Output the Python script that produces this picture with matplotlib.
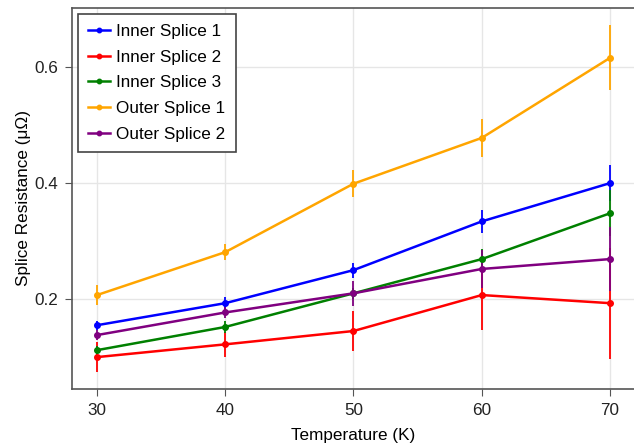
import numpy as np
import matplotlib.pyplot as plt

plt.rcParams['font.family'] = ['Liberation Sans', 'DejaVu Sans']

# temperature (K)
temps = [30, 40, 50, 60, 70]

labels = ['Inner Splice 1', 'Inner Splice 2', 'Inner Splice 3',
          'Outer Splice 1', 'Outer Splice 2']
colors = ['#0000ff', '#ff0000', '#008000', '#ffa500', '#800080']

# splice resistance (micro-ohm) and its error
inner1 = [0.155, 0.193, 0.250, 0.334, 0.400]
inner1_err = [0.008, 0.010, 0.013, 0.020, 0.031]
inner2 = [0.100, 0.122, 0.145, 0.207, 0.193]
inner2_err = [0.026, 0.022, 0.035, 0.060, 0.096]
inner3 = [0.112, 0.152, 0.210, 0.269, 0.348]
inner3_err = [0.008, 0.010, 0.010, 0.018, 0.040]
outer1 = [0.207, 0.281, 0.399, 0.478, 0.616]
outer1_err = [0.017, 0.014, 0.023, 0.033, 0.056]
outer2 = [0.138, 0.177, 0.210, 0.252, 0.269]
outer2_err = [0.008, 0.010, 0.022, 0.032, 0.055]

series = [(inner1, inner1_err), (inner2, inner2_err), (inner3, inner3_err),
          (outer1, outer1_err), (outer2, outer2_err)]

fig = plt.figure(figsize=(6.34, 4.43), dpi=100)
ax = fig.add_axes([72/634, 54/443, 563/634, 381/443])

handles = []
for (vals, errs), lab, c in zip(series, labels, colors):
    cont = ax.errorbar(temps, vals, yerr=errs, color=c, label=lab, lw=1.8,
                       elinewidth=1.3, capsize=0, marker='o', ms=4)
    # legend shows only line + marker, no error bar
    handles.append(cont[0])

ax.set_xlim(28.05, 71.95)
ax.set_ylim(0.045, 0.702)
ax.set_xticks(temps)
ax.set_yticks([0.2, 0.4, 0.6])
ax.grid(True, color='#e6e6e6', lw=1)
ax.set_axisbelow(True)

for s in ['left', 'bottom', 'top']:
    ax.spines[s].set_color('#555555')
    ax.spines[s].set_linewidth(1.2)
ax.spines['right'].set_visible(False)
ax.tick_params(labelsize=12.3, colors='#222222', length=5, pad=5,
               color='#555555')

ax.set_xlabel('Temperature (K)', fontsize=12.3, labelpad=7)
ax.set_ylabel('Splice Resistance (\u03bc\u03a9)', fontsize=12.3, labelpad=2)

leg = ax.legend(handles, labels, loc='upper left', fontsize=12.3,
                fancybox=False, framealpha=1, edgecolor='#444444',
                handlelength=1.3, handletextpad=0.35, borderaxespad=0.35,
                labelspacing=0.62, borderpad=0.6, markerscale=0.8)
leg.get_frame().set_linewidth(1.2)

fig.savefig('out.png', dpi=100)
